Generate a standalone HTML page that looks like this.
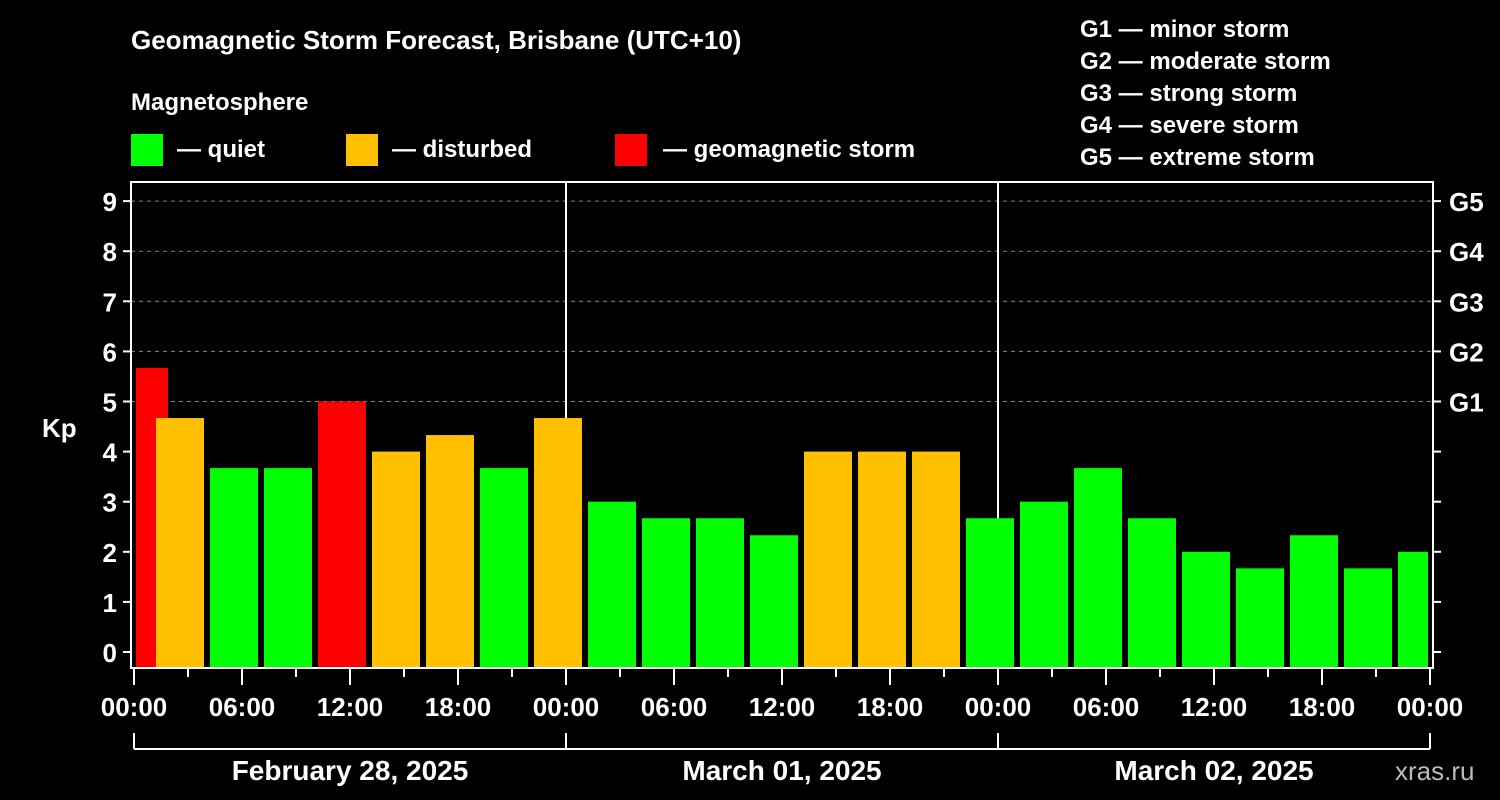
<!DOCTYPE html>
<html><head><meta charset="utf-8"><style>
html,body{margin:0;padding:0;background:#000;width:1500px;height:800px;overflow:hidden}
svg{display:block;font-family:"Liberation Sans",Arial,sans-serif;font-weight:bold}
</style></head><body>
<svg id="chart" width="1500" height="800" viewBox="0 0 1500 800">
<rect x="0" y="0" width="1500" height="800" fill="#000"/>
<text x="131" y="49" fill="#fff" font-size="26">Geomagnetic Storm Forecast, Brisbane (UTC+10)</text>
<text x="131" y="110" fill="#fff" font-size="24">Magnetosphere</text>
<g><rect x="131" y="134" width="32" height="32" fill="#00ff00"/><text x="177" y="157" fill="#fff" font-size="24">— quiet</text></g>
<g><rect x="346" y="134" width="32" height="32" fill="#ffc000"/><text x="392" y="157" fill="#fff" font-size="24">— disturbed</text></g>
<g><rect x="615" y="134" width="32" height="32" fill="#ff0000"/><text x="663" y="157" fill="#fff" font-size="24">— geomagnetic storm</text></g>
<g fill="#fff" font-size="24">
<text x="1080" y="37">G1 — minor storm</text>
<text x="1080" y="69">G2 — moderate storm</text>
<text x="1080" y="101">G3 — strong storm</text>
<text x="1080" y="133">G4 — severe storm</text>
<text x="1080" y="165">G5 — extreme storm</text>
</g>
<g id="grid"></g>
<g id="bars"></g>
<g id="axes"></g>
<text x="42" y="437" fill="#fff" font-size="26">Kp</text>
<text x="1395" y="780" fill="#bbb" font-size="26" font-weight="normal">xras.ru</text>
</svg>
<script>
const kpValues = [5.67, 4.67, 3.67, 3.67, 5, 4, 4.33, 3.67, 4.67, 3, 2.67, 2.67, 2.33, 4, 4, 4, 2.67, 3, 3.67, 2.67, 2, 1.67, 2.33, 1.67, 2];
const barStartHours = [-1, 1, 4, 7, 10, 13, 16, 19, 22, 25, 28, 31, 34, 37, 40, 43, 46, 49, 52, 55, 58, 61, 64, 67, 70];
const hourTickLabels = ["00:00","06:00","12:00","18:00","00:00","06:00","12:00","18:00","00:00","06:00","12:00","18:00","00:00"];
const dayLabels = ["February 28, 2025","March 01, 2025","March 02, 2025"];
const yTicks = [0,1,2,3,4,5,6,7,8,9];
const gLabels = ["G1","G2","G3","G4","G5"];

const NS="http://www.w3.org/2000/svg";
const X0=134, PXH=18, Y0=652, PXK=50.1, LEFT=131, RIGHT=1433, TOP=182, BOT=668, XEND=134+72*18;
const xs=h=>X0+h*PXH, ys=k=>Y0-k*PXK;
function mk(tag,attrs,parent){const e=document.createElementNS(NS,tag);for(const k in attrs)e.setAttribute(k,attrs[k]);parent.appendChild(e);return e;}
const grid=document.getElementById('grid'),bars=document.getElementById('bars'),axes=document.getElementById('axes');
// dashed grid for G levels
gLabels.forEach((g,i)=>{
  const y=ys(5+i);
  const l=mk('line',{x1:LEFT,x2:RIGHT,y1:y,y2:y,stroke:'#888','stroke-dasharray':'4,4','stroke-width':1},grid);
  
  
  const t=mk('text',{x:1449,y:y+10,fill:'#fff','font-size':26},axes);t.textContent=g;
  
  
});
// bars
kpValues.forEach((v,i)=>{
  let x1=xs(barStartHours[i])+4, x2=xs(barStartHours[i]+3)-2;
  x1=Math.max(x1,136); x2=Math.min(x2,1428);
  const col=v>=5?'#ff0000':(v>=4?'#ffc000':'#00ff00');
  const r=mk('rect',{x:x1,y:ys(v),width:x2-x1,height:BOT-ys(v),fill:col},bars);
  
  
});
// day separators
[24,48].forEach(h=>{const l=mk('line',{x1:xs(h),x2:xs(h),y1:TOP,y2:BOT,stroke:'#fff','stroke-width':2},grid);
  
  });
// frame
const f=mk('rect',{x:LEFT,y:TOP,width:RIGHT-LEFT,height:BOT-TOP,fill:'none',stroke:'#fff','stroke-width':2},axes);


// y ticks
yTicks.forEach(k=>{const y=ys(k);
  mk('line',{x1:LEFT-8,x2:LEFT,y1:y,y2:y,stroke:'#fff','stroke-width':2},axes);
  mk('line',{x1:RIGHT,x2:RIGHT+8,y1:y,y2:y,stroke:'#fff','stroke-width':2},axes);
  const t=mk('text',{x:LEFT-14,y:y+10,fill:'#fff','font-size':26,'text-anchor':'end'},axes);t.textContent=k;
  
  
});
// x ticks
for(let h=0;h<=72;h+=3){const major=h%6===0;
  mk('line',{x1:xs(h),x2:xs(h),y1:BOT,y2:major?685:677,stroke:'#fff','stroke-width':2},axes);}
hourTickLabels.forEach((lab,i)=>{const t=mk('text',{x:xs(i*6),y:716,fill:'#fff','font-size':26,'text-anchor':'middle'},axes);t.textContent=lab;
  
  });
// date bracket
const bl=mk('line',{x1:X0,x2:XEND,y1:749,y2:749,stroke:'#fff','stroke-width':2},axes);


[0,24,48,72].forEach(h=>mk('line',{x1:xs(h),x2:xs(h),y1:733,y2:749,stroke:'#fff','stroke-width':2},axes));
dayLabels.forEach((d,i)=>{const t=mk('text',{x:xs(i*24+12),y:780,fill:'#fff','font-size':28,'text-anchor':'middle'},axes);t.textContent=d;
  
  });
</script>
</body></html>
